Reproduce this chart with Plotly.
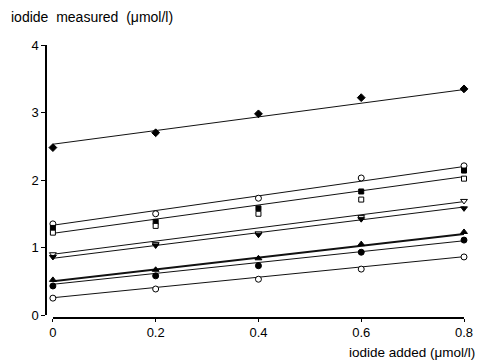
import plotly.graph_objects as go

# ---- data ----
x_added = [0, 0.2, 0.4, 0.6, 0.8]
x_ticks = [0, 0.2, 0.4, 0.6, 0.8]
x_tick_labels = ["0", "0.2", "0.4", "0.6", "0.8"]
y_ticks = [0, 1, 2, 3, 4]
y_tick_labels = ["0", "1", "2", "3", "4"]

s_top = [2.48, 2.70, 2.98, 3.22, 3.35]
s_open_circle_hi = [1.35, 1.50, 1.73, 2.03, 2.21]
s_filled_square = [1.29, 1.38, 1.58, 1.83, 2.14]
s_open_square = [1.22, 1.32, 1.50, 1.71, 2.02]
s_open_tri_down = [0.90, 1.05, 1.21, 1.45, 1.69]
s_filled_tri_down = [0.86, 1.03, 1.19, 1.42, 1.58]
s_filled_tri_up = [0.52, 0.67, 0.84, 1.05, 1.23]
s_filled_circle = [0.43, 0.58, 0.73, 0.93, 1.11]
s_open_circle_lo = [0.25, 0.385, 0.53, 0.68, 0.86]

# regression lines (intercept, slope)
fit_intercept = [2.53, 1.33, 1.21, 0.90, 0.84, 0.50, 0.455, 0.256]
fit_slope = [1.0125, 1.0875, 1.05, 0.975, 0.95, 0.875, 0.806, 0.76]
fit_width = [1, 1, 1, 1, 1, 2, 1, 1]

series = [
    (s_top, "diamond", 6, "black"),
    (s_open_circle_hi, "circle", 6, "white"),
    (s_filled_square, "square", 5, "black"),
    (s_open_square, "square", 5, "white"),
    (s_open_tri_down, "triangle-down", 6, "white"),
    (s_filled_tri_down, "triangle-down", 6, "black"),
    (s_filled_tri_up, "triangle-up", 6, "black"),
    (s_filled_circle, "circle", 6, "black"),
    (s_open_circle_lo, "circle", 6, "white"),
]

fig = go.Figure()

x_fit = [x_added[0], x_added[-1]]
for b, m, w in zip(fit_intercept, fit_slope, fit_width):
    fig.add_trace(go.Scatter(
        x=x_fit, y=[b + m * xx for xx in x_fit], mode="lines",
        line=dict(color="#111111", width=w), showlegend=False, hoverinfo="skip"))

for vals, sym, size, fill in series:
    fig.add_trace(go.Scatter(
        x=x_added, y=vals, mode="markers", cliponaxis=False,
        marker=dict(symbol=sym, size=size, color=fill,
                    line=dict(color="black", width=1)),
        showlegend=False))

# page body has an 8px margin, so the figure is laid out 8px smaller
OFF = 8
FW, FH = 485 - OFF, 361 - OFF
L, T = 46 - OFF, 45 - OFF
W, H = 424, 273
R = FW - L - W
B = FH - T - H

font = dict(family="Liberation Sans, Arial, sans-serif", size=13, color="black")
ytitle_font = dict(family="Liberation Sans, Arial, sans-serif", size=14, color="black")
xtitle_font = dict(family="Liberation Sans, Arial, sans-serif", size=13.5, color="black")

fig.update_layout(
    width=FW, height=FH,
    margin=dict(l=L, r=R, t=T, b=B, pad=0),
    paper_bgcolor="white", plot_bgcolor="white",
    font=font,
    xaxis=dict(domain=[7 / W, 1], range=[0, 0.8], anchor="free", position=0,
               showline=True, linecolor="black", linewidth=1.5,
               ticks="outside", ticklen=3, tickcolor="black",
               tickvals=x_ticks, ticktext=x_tick_labels,
               showgrid=False, zeroline=False),
    yaxis=dict(domain=[3 / H, 1], range=[0, 4], anchor="free", position=0,
               showline=True, linecolor="black", linewidth=1.5,
               ticks="outside", ticklen=4, tickcolor="black",
               tickvals=y_ticks, ticktext=y_tick_labels,
               showgrid=False, zeroline=False),
    annotations=[
        dict(text="iodide  measured  (\u03bcmol/l)", xref="paper", yref="paper",
             x=(8 - OFF - L) / W, y=(T + H - (17 - OFF)) / H,
             xanchor="left", yanchor="middle", showarrow=False, font=ytitle_font),
        dict(text="iodide added (\u03bcmol/l)", xref="paper", yref="paper",
             x=(483 - OFF - L) / W, y=(T + H - (352 - OFF)) / H,
             xanchor="right", yanchor="middle", showarrow=False, font=xtitle_font),
    ],
)

fig.write_html("out.html")
